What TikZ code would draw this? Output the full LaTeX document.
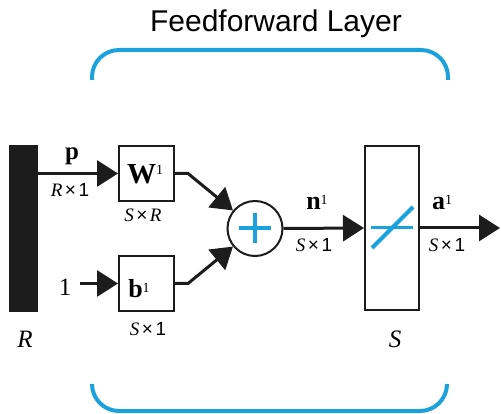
\documentclass[tikz,border=0pt]{standalone}
\usepackage{fontspec}
\setmainfont{Liberation Serif}
\newfontfamily\sansf{Liberation Sans}
\usetikzlibrary{arrows.meta}
\definecolor{nnblue}{RGB}{27,161,219}
\definecolor{nnblack}{RGB}{28,28,28}
\newcommand{\fsz}[1]{\fontsize{#1}{#1}\selectfont}
\newcommand{\upone}[1]{\raisebox{#1}{\mdseries\fsz{14}1}}
\newcommand{\dimtxt}[2]{{\fsz{19}\itshape #1}\hspace{2.5pt}{\sansf\fsz{19}×\hspace{2.5pt}#2}}
\tikzset{
  lab/.style={anchor=base,inner sep=0pt,outer sep=0pt},
  tip/.style={-{Triangle[length=21pt,width=26pt]}},
  wire/.style={draw=nnblack,line width=3pt,tip},
  plain/.style={draw=nnblack,line width=3pt},
  boxnode/.style={draw=nnblack,line width=2pt,rectangle,inner sep=0pt,minimum width=55pt,minimum height=55pt},
  bracket/.style={draw=nnblue,line width=4pt,rounded corners=27pt},
  bluestroke/.style={draw=nnblue,line width=4pt}
}
\begin{document}
\begin{tikzpicture}[x=1pt,y=-1pt]
\useasboundingbox (0,0) rectangle (501,414);
% title and brackets
\node[lab] (title) at (276,32) {\sansf\fsz{30}Feedforward Layer};
\draw[bracket] (92,80) -- (92,50) -- (448,50) -- (448,80);
\draw[bracket] (92,384) -- (92,411) -- (447,411) -- (447,384);
% input bar
\node[fill=nnblack,inner sep=0pt,minimum width=29pt,minimum height=167pt] (bar) at (23.5,228.5) {};
\node[lab] (Rlab) at (25,347) {\fsz{25}\itshape R};
% weight and bias boxes
\node[boxnode] (W) at (146.5,173.5) {};
\node[boxnode] (b) at (146.5,283.5) {};
\node[lab] (Wlab) at (145,184) {\fsz{29}\bfseries W\upone{9pt}};
\node[lab] (blab) at (139,298) {\fsz{26}\bfseries b\upone{5pt}};
\node[lab] (WSR) at (143,222) {\dimtxt{S}{\rmfamily\itshape R}};
\node[lab] (bS1) at (148,335) {\dimtxt{S}{1}};
% p input
\node[lab] (plab) at (72,160) {\fsz{25}\bfseries p};
\node[lab] (pR1) at (70,197) {\dimtxt{R}{1}};
\node[lab] (one) at (65,295) {\fsz{25}1};
% summation
\node[draw=nnblack,line width=2pt,circle,minimum size=55pt,inner sep=0pt] (sum) at (255,228.5) {};
\draw[bluestroke] ([xshift=-16pt]sum.center) -- ([xshift=16pt]sum.center);
\draw[bluestroke] ([yshift=-15pt]sum.center) -- ([yshift=15pt]sum.center);
% transfer function box
\node[draw=nnblack,line width=2pt,rectangle,inner sep=0pt,minimum width=54pt,minimum height=164pt] (S) at (392,228) {};
\node[lab] (Slab) at (395,347) {\fsz{25}\itshape S};
\draw[draw=nnblue,line width=3pt] ([xshift=-21pt]S.center) -- ([xshift=21pt]S.center);
\draw[bluestroke] ([shift={(-20pt,-20pt)}]S.center) -- ([shift={(21pt,21pt)}]S.center);
% labels on n and a
\node[lab] (nlab) at (317,210) {\fsz{26}\bfseries n\upone{5pt}};
\node[lab] (nS1) at (314,252) {\dimtxt{S}{1}};
\node[lab] (alab) at (442,210) {\fsz{26}\bfseries a\upone{5pt}};
\node[lab] (aS1) at (447,252) {\dimtxt{S}{1}};
\coordinate (out) at (500,228);
% connectors
\draw[wire] (W.west -| bar.east) -- (W.west);
\draw[wire] ([xshift=9pt]one.east |- b.west) -- (b.west);
\draw[wire] (W.east) -- ++(13,0) -- (sum);
\draw[wire] (b.east) -- ++(13,0) -- (sum);
\draw[wire] (sum.east) -- (S.west);
\draw[wire] (S.east) -- (out);
\end{tikzpicture}
\end{document}
